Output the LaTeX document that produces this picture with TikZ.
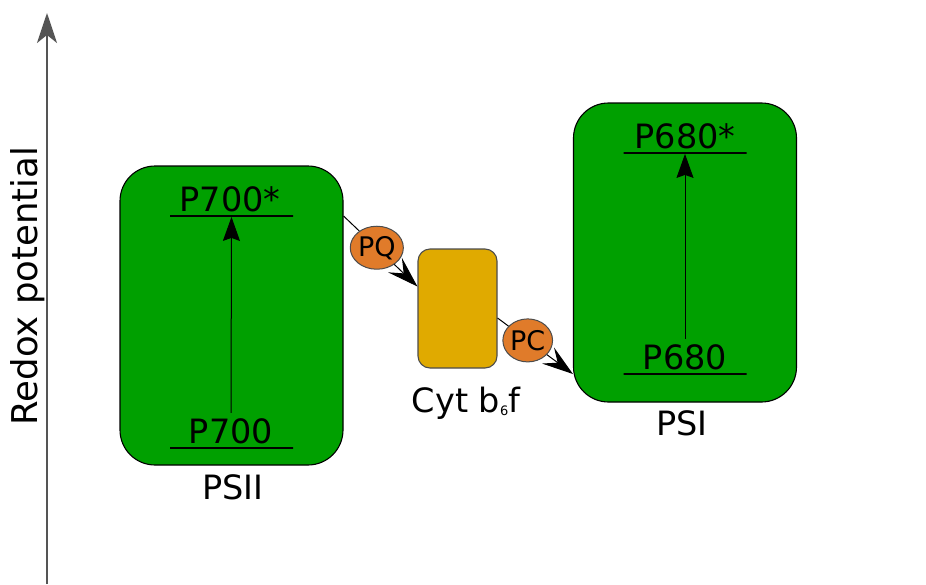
\documentclass[tikz,border=0pt]{standalone}
\usepackage{fontspec}
\setmainfont{DejaVu Sans}
\usepackage{tikz}
\usetikzlibrary{arrows.meta, shapes.geometric}

\definecolor{psgreen}{RGB}{0,160,0}
\definecolor{cytyellow}{RGB}{224,170,0}
\definecolor{carrier}{RGB}{224,123,42}
\definecolor{axisgray}{RGB}{85,85,85}

\tikzset{
    photosystem/.style={draw=black, line width=1.1pt, fill=psgreen, rounded corners=35pt,
        minimum width=223pt, minimum height=299pt, inner sep=0pt},
    cytbox/.style={draw=black!70, line width=1.1pt, fill=cytyellow, rounded corners=12pt,
        minimum width=79pt, minimum height=119pt, inner sep=0pt},
    carrierdot/.style={ellipse, draw=black!70, line width=1pt, fill=carrier,
        minimum width=48pt, minimum height=43pt, inner sep=0pt, font=\fontsize{27}{28}\selectfont},
    lbl/.style={font=\fontsize{33.5}{38}\selectfont, inner sep=0pt},
    levelline/.style={draw=black, line width=1.8pt, minimum width=123pt, minimum height=0pt, inner sep=0pt},
    excite/.style={-{Stealth[length=24pt, width=17pt, inset=3pt]}, line width=1pt, shorten <=5pt},
    flow/.style={-{Stealth[length=31pt, width=20pt, inset=12pt]}, line width=1pt}
}

\begin{document}
\begin{tikzpicture}[x=1pt, y=-1pt]
    \useasboundingbox (0,0) rectangle (926,584);

    % axis
    \draw[axisgray, line width=2pt, -{Stealth[length=30pt, width=20pt, inset=8pt]}] (47,584) coordinate (axbot) -- (47,13) coordinate (axtop);
    \node[lbl, font=\fontsize{35.5}{40}\selectfont, rotate=90] (redox) at (28,286) {Redox potential};

    % photosystems and cytochrome
    \node[photosystem] (psii) at (231.5,315.5) {};
    \node[photosystem] (psi)  at (685,252.5) {};
    \node[cytbox] (cyt) at (457.5,308.5) {};

    \node[lbl] (psiilbl) at (233,487) {PSII};
    \node[lbl] (psilbl)  at (682,423) {PSI};
    \node[lbl] (cytlbl)  at (466,403) {Cyt b\raisebox{-3pt}{\fontsize{13}{13}\selectfont 6}f};

    % energy levels
    \node[levelline] (lvl700s) at (231.5,216) {};
    \node[levelline] (lvl700)  at (231.5,448) {};
    \node[levelline] (lvl680s) at (685,153) {};
    \node[levelline] (lvl680)  at (685,374) {};

    \node[lbl, anchor=base] (p700s) at (230,211) {P700*};
    \node[lbl, anchor=base] (p700)  at (231,443) {P700};
    \node[lbl, anchor=base] (p680s) at (685,148) {P680*};
    \node[lbl, anchor=base] (p680)  at (685,369) {P680};

    \draw[excite] (p700.north) -- (lvl700s.south);
    \draw[excite] (p680.north) -- (lvl680s.south);

    % electron carriers
    \draw[flow] (psii.east |- lvl700s) -- node[carrierdot, pos=0.45] (pq) {PQ} ([yshift=22pt]cyt.west);
    \draw[flow] ([yshift=-9.5pt]cyt.east) -- node[carrierdot, pos=0.4] (pc) {PC} (psi.west |- lvl680);
\end{tikzpicture}
\end{document}
